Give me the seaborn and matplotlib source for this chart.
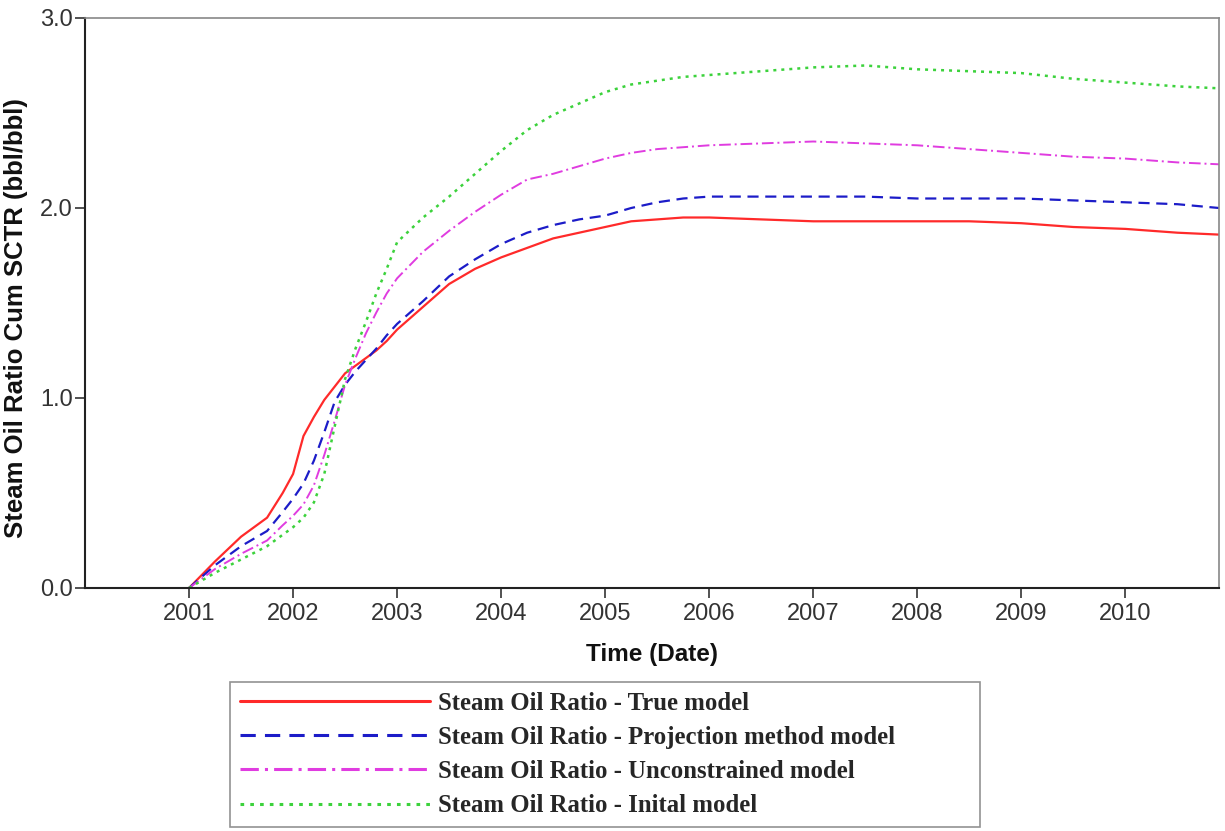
import numpy as np
import pandas as pd
import matplotlib
matplotlib.use("Agg")
import matplotlib.pyplot as plt
import seaborn as sns

years = [2001.0, 2001.25, 2001.5, 2001.75, 2001.9, 2002.0, 2002.1, 2002.2, 2002.3, 2002.4,
         2002.5, 2002.6, 2002.7, 2002.8, 2002.9, 2003.0, 2003.25, 2003.5, 2003.75, 2004.0,
         2004.25, 2004.5, 2004.75, 2005.0, 2005.25, 2005.5, 2005.75, 2006.0, 2006.5, 2007.0,
         2007.5, 2008.0, 2008.5, 2009.0, 2009.5, 2010.0, 2010.5, 2010.9]

true_model = [0.0, 0.14, 0.27, 0.37, 0.50, 0.60, 0.80, 0.90, 0.99, 1.06,
              1.13, 1.17, 1.21, 1.25, 1.30, 1.36, 1.48, 1.60, 1.68, 1.74,
              1.79, 1.84, 1.87, 1.90, 1.93, 1.94, 1.95, 1.95, 1.94, 1.93,
              1.93, 1.93, 1.93, 1.92, 1.90, 1.89, 1.87, 1.86]

projection_model = [0.0, 0.12, 0.22, 0.30, 0.40, 0.47, 0.55, 0.67, 0.82, 0.98,
                    1.07, 1.14, 1.20, 1.26, 1.33, 1.39, 1.51, 1.64, 1.73, 1.81,
                    1.87, 1.91, 1.94, 1.96, 2.00, 2.03, 2.05, 2.06, 2.06, 2.06,
                    2.06, 2.05, 2.05, 2.05, 2.04, 2.03, 2.02, 2.00]

unconstrained_model = [0.0, 0.10, 0.18, 0.25, 0.33, 0.38, 0.44, 0.54, 0.70, 0.88,
                       1.07, 1.21, 1.34, 1.45, 1.55, 1.63, 1.77, 1.88, 1.98, 2.07,
                       2.15, 2.18, 2.22, 2.26, 2.29, 2.31, 2.32, 2.33, 2.34, 2.35,
                       2.34, 2.33, 2.31, 2.29, 2.27, 2.26, 2.24, 2.23]

initial_model = [0.0, 0.08, 0.15, 0.22, 0.28, 0.32, 0.37, 0.45, 0.60, 0.85,
                 1.10, 1.26, 1.40, 1.55, 1.68, 1.82, 1.95, 2.06, 2.18, 2.30,
                 2.41, 2.49, 2.55, 2.61, 2.65, 2.67, 2.69, 2.70, 2.72, 2.74,
                 2.75, 2.73, 2.72, 2.71, 2.68, 2.66, 2.64, 2.63]

labels = ["Steam Oil Ratio - True model",
          "Steam Oil Ratio - Projection method model",
          "Steam Oil Ratio - Unconstrained model",
          "Steam Oil Ratio - Inital model"]
series = [true_model, projection_model, unconstrained_model, initial_model]
colors = ["#ff2a2a", "#1c1cc8", "#e03ce0", "#3cd23c"]
styles = ["-", (0, (5, 3)), (0, (6, 2, 1, 2)), (0, (1.2, 2))]
widths = [1.6, 1.6, 1.4, 1.8]
x_ticks = [2001, 2002, 2003, 2004, 2005, 2006, 2007, 2008, 2009, 2010]
y_ticks = [0.0, 1.0, 2.0, 3.0]

sns.set_style("white")
plt.rcParams['font.family'] = ['Liberation Sans', 'DejaVu Sans']

fig = plt.figure(figsize=(12.25, 8.31), dpi=100)
ax = fig.add_axes([85/1225, 1 - 588/831, (1219-85)/1225, (588-18)/831])

for vals, lab, c, ls, lw in zip(series, labels, colors, styles, widths):
    df = pd.DataFrame({"Year": years, "SOR": vals})
    sns.lineplot(data=df, x="Year", y="SOR", ax=ax, color=c, linestyle=ls,
                 linewidth=lw, label=lab, legend=False)

ax.set_xlim(2000.0, 2010.9)
ax.set_ylim(0, 3.0)
ax.set_xticks(x_ticks)
ax.set_xticklabels([str(t) for t in x_ticks])
ax.set_yticks(y_ticks)
ax.set_yticklabels([f"{t:.1f}" for t in y_ticks])
ax.tick_params(axis='both', direction='out', length=7, width=1.2, colors='#333333',
               labelsize=17, left=True, bottom=True)
ax.tick_params(axis='y', pad=2)
ax.tick_params(axis='x', pad=4)
for s in ['left', 'bottom']:
    ax.spines[s].set_color('#222222')
    ax.spines[s].set_linewidth(1.5)
for s in ['top', 'right']:
    ax.spines[s].set_color('#888888')
    ax.spines[s].set_linewidth(1.2)

ax.set_xlabel("Time (Date)", fontsize=17.5, fontweight='bold', labelpad=13, color='#111111')
ax.set_ylabel("Steam Oil Ratio Cum SCTR (bbl/bbl)", fontsize=18.5, fontweight='bold',
              color='#111111')
ax.yaxis.set_label_coords(-0.050, 0.474)

handles, labs = ax.get_legend_handles_labels()
leg = fig.legend(handles, labs, loc='upper left',
                 bbox_to_anchor=(230/1225, 1 - 682/831, 750/1225, 0.0),
                 mode='expand', ncol=1, frameon=True, fancybox=False,
                 handlelength=7.7, handletextpad=0.3, labelspacing=0.45,
                 borderpad=0.4, borderaxespad=0.0,
                 prop={'family': 'Liberation Serif', 'weight': 'bold', 'size': 17.8})
leg.get_frame().set_edgecolor('#777777')
leg.get_frame().set_linewidth(1.2)
for line in leg.get_lines():
    line.set_linewidth(2.2)

fig.savefig("out.png", dpi=100)
